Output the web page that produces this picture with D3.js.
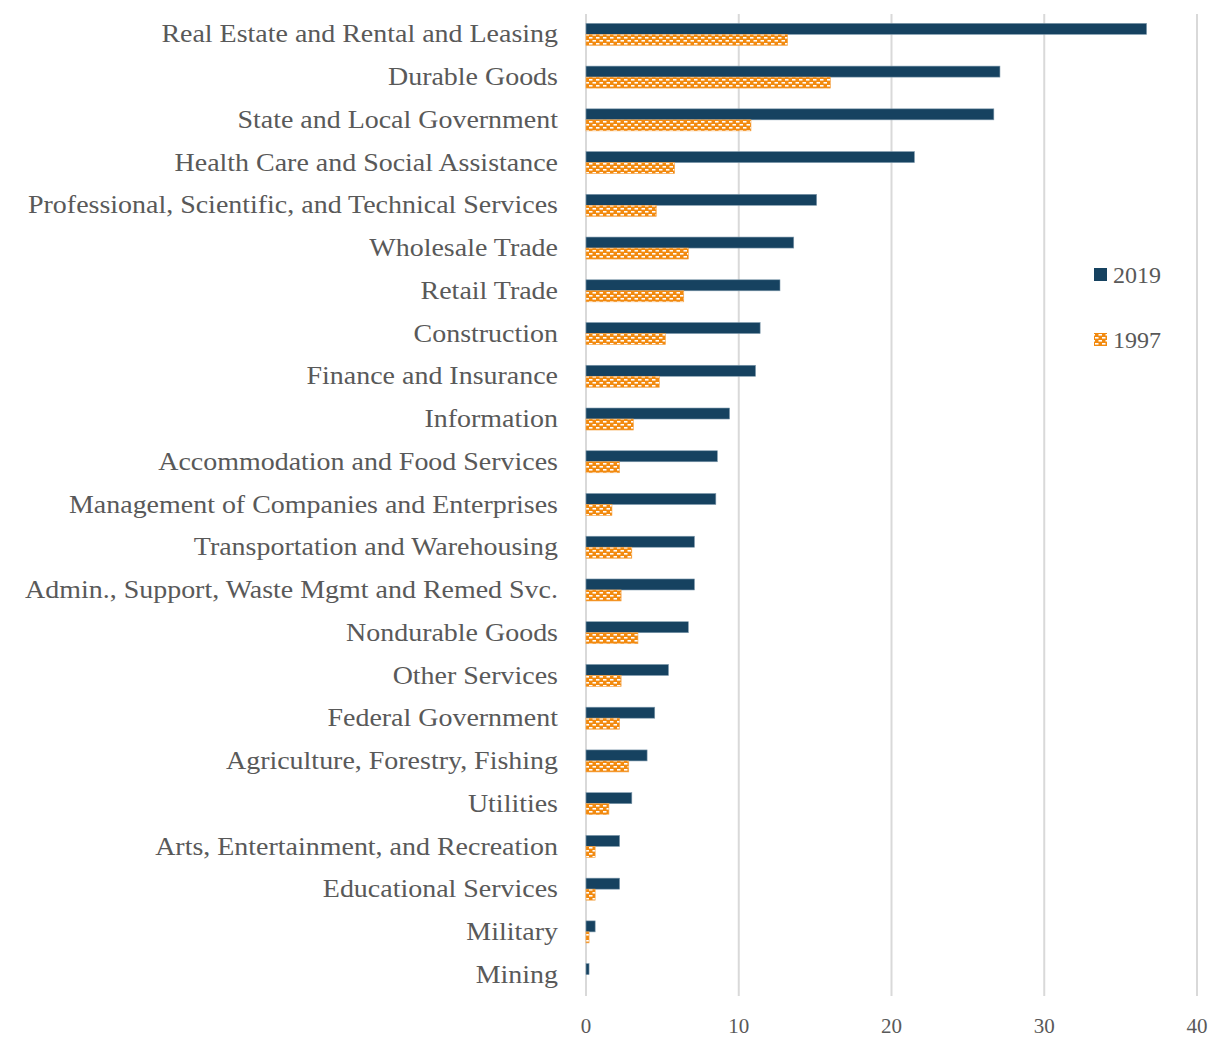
<!DOCTYPE html>
<html>
<head>
<meta charset="utf-8">
<script src="https://cdn.jsdelivr.net/npm/d3@7"></script>
<style>
  body { margin: 0; background: #fff; }
  text { font-family: 'Liberation Serif', 'DejaVu Serif', serif; }
</style>
</head>
<body>
<div id="chart"></div>
<script>
const categories = [
    'Real Estate and Rental and Leasing',
    'Durable Goods',
    'State and Local Government',
    'Health Care and Social Assistance',
    'Professional, Scientific, and Technical Services',
    'Wholesale Trade',
    'Retail Trade',
    'Construction',
    'Finance and Insurance',
    'Information',
    'Accommodation and Food Services',
    'Management of Companies and Enterprises',
    'Transportation and Warehousing',
    'Admin., Support, Waste Mgmt and Remed Svc.',
    'Nondurable Goods',
    'Other Services ',
    'Federal Government',
    'Agriculture, Forestry, Fishing',
    'Utilities',
    'Arts, Entertainment, and Recreation',
    'Educational Services',
    'Military',
    'Mining',
]
const values2019 = [36.7, 27.1, 26.7, 21.5, 15.1, 13.6, 12.7, 11.4, 11.1, 9.4, 8.6, 8.5, 7.1, 7.1, 6.7, 5.4, 4.5, 4.0, 3.0, 2.2, 2.2, 0.6, 0.2]
const values1997 = [13.2, 16.0, 10.8, 5.8, 4.6, 6.7, 6.4, 5.2, 4.8, 3.1, 2.2, 1.7, 3.0, 2.3, 3.4, 2.3, 2.2, 2.8, 1.5, 0.6, 0.6, 0.2, 0.0]
const xTicks = [0, 10, 20, 30, 40]
const seriesNames = ['2019', '1997']

const width = 1212
const height = 1038
const margin = { top: 13, right: 15, bottom: 42, left: 586 }
const plotRight = 1197

const rows = categories.map((c, i) => ({
    name: c,
    v2019: values2019[i],
    v1997: values1997[i],
}))

const x = d3.scaleLinear().domain([0, 40]).range([margin.left, plotRight])
const y = d3
    .scaleBand()
    .domain(categories)
    .range([margin.top, height - margin.bottom])
    .paddingInner(0.485)
    .paddingOuter(0.2425)
const barH = y.bandwidth() / 2

const svg = d3
    .select('#chart')
    .append('svg')
    .attr('width', width)
    .attr('height', height)

// checker pattern for 1997
const defs = svg.append('defs')
const pat = defs
    .append('pattern')
    .attr('id', 'orange-check')
    .attr('patternUnits', 'userSpaceOnUse')
    .attr('width', 7)
    .attr('height', 6)
pat.append('rect').attr('width', 7).attr('height', 6).attr('fill', '#f28a0f')
pat.append('rect').attr('x', 1).attr('y', 1).attr('width', 3.5).attr('height', 1.6).attr('fill', '#fff')
pat.append('rect').attr('x', 4.5).attr('y', 4).attr('width', 3.5).attr('height', 1.6).attr('fill', '#fff')
pat.append('rect').attr('x', -2.5).attr('y', 4).attr('width', 3.5).attr('height', 1.6).attr('fill', '#fff')

// gridlines
svg.append('g')
    .selectAll('line')
    .data(xTicks)
    .enter()
    .append('line')
    .attr('x1', (d) => x(d))
    .attr('x2', (d) => x(d))
    .attr('y1', 14)
    .attr('y2', 996)
    .attr('stroke', '#d9d9d9')
    .attr('stroke-width', 2)

// x tick labels
svg.append('g')
    .selectAll('text')
    .data(xTicks)
    .enter()
    .append('text')
    .attr('x', (d) => x(d))
    .attr('y', 1033)
    .attr('text-anchor', 'middle')
    .style('font-size', '21px')
    .style('fill', '#595959')
    .text((d) => d)

// bars
const bars = svg.append('g')
bars.selectAll('.bar2019')
    .data(rows)
    .enter()
    .append('rect')
    .attr('class', 'bar2019')
    .attr('x', x(0))
    .attr('y', (d) => y(d.name))
    .attr('width', (d) => x(d.v2019) - x(0))
    .attr('height', barH)
    .attr('fill', '#164260')
    .attr('stroke', '#7f9aad')
    .attr('stroke-width', 0.6)

bars.selectAll('.bar1997')
    .data(rows.filter((d) => d.v1997 > 0))
    .enter()
    .append('rect')
    .attr('class', 'bar1997')
    .attr('x', x(0))
    .attr('y', (d) => y(d.name) + barH)
    .attr('width', (d) => x(d.v1997) - x(0))
    .attr('height', barH)
    .attr('fill', 'url(#orange-check)')
    .attr('stroke', '#f5a54a')
    .attr('stroke-width', 0.6)

// category labels (stretched a little to match the wider original face)
const labels = svg
    .append('g')
    .selectAll('text')
    .data(rows)
    .enter()
    .append('text')
    .attr('x', 558)
    .attr('y', (d) => y(d.name) + y.bandwidth() / 2 - 1)
    .attr('dy', '0.35em')
    .attr('text-anchor', 'end')
    .style('font-size', '26px')
    .style('fill', '#595959')
    .text((d) => d.name)

labels.each(function () {
    const w = this.getComputedTextLength()
    d3.select(this)
        .attr('textLength', w * 1.075)
        .attr('lengthAdjust', 'spacingAndGlyphs')
})

// legend
const legend = svg.append('g').attr('transform', 'translate(1094, 0)')
const legendItems = [
    { name: seriesNames[0], fill: '#164260', y: 275 },
    { name: seriesNames[1], fill: 'url(#orange-check)', y: 340 },
]
legendItems.forEach((it) => {
    legend
        .append('rect')
        .attr('x', 0)
        .attr('y', it.y - 7)
        .attr('width', 13)
        .attr('height', 13)
        .attr('fill', it.fill)
    legend
        .append('text')
        .attr('x', 19)
        .attr('y', it.y)
        .attr('dy', '0.35em')
        .style('font-size', '24px')
        .style('fill', '#595959')
        .text(it.name)
})
</script>
</body>
</html>
